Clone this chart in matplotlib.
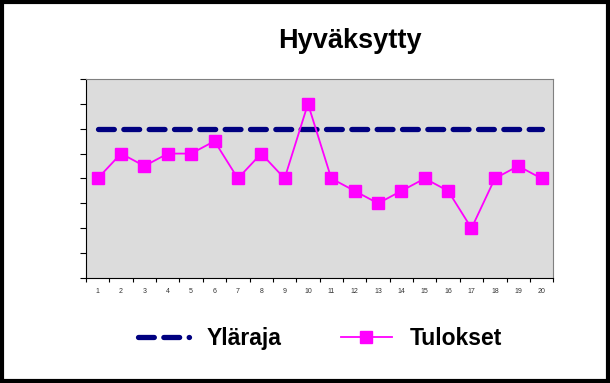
import matplotlib.pyplot as plt
from matplotlib.patches import Rectangle
import numpy as np

plt.rcParams['font.family'] = ['Liberation Sans', 'DejaVu Sans']

kerrat = list(range(1, 21))
ylaraja = [6] * 20
tulokset = [4, 5, 4.5, 5, 5, 5.5, 4, 5, 4, 7, 4, 3.5, 3, 3.5, 4, 3.5, 2, 4, 4.5, 4]

fig = plt.figure(figsize=(6.10, 3.83), dpi=100)
ax = fig.add_axes([0.141, 0.274, 0.766, 0.520])
ax.set_facecolor('#dcdcdc')

ax.plot(kerrat, ylaraja, color='#000080', linewidth=3.8, dashes=(3, 1.8),
        dash_capstyle='round', label='Yläraja')
ax.plot(kerrat, tulokset, color='#ff00ff', linewidth=1.3, marker='s',
        markersize=8.5, label='Tulokset')

ax.set_xlim(0.5, 20.5)
ax.set_ylim(0, 8)
ax.set_xticks(kerrat)
ax.set_xticklabels([str(k) for k in kerrat], fontsize=5, color='#333333')
ax.set_xticks(np.arange(0.5, 21, 1), minor=True)
ax.tick_params(axis='x', which='major', length=0, pad=7)
ax.tick_params(axis='x', which='minor', length=3, width=0.8)
ax.set_yticks(range(0, 9))
ax.set_yticklabels([])
ax.tick_params(axis='y', length=4, width=0.8)

for side in ['top', 'right']:
    ax.spines[side].set_color('#808080')
for side in ['left', 'bottom']:
    ax.spines[side].set_color('black')

fig.text(0.574, 0.893, 'Hyväksytty', ha='center', va='center',
         fontsize=19.5, fontweight='bold')

fig.legend(loc='center', bbox_to_anchor=(0.525, 0.117), ncol=2, frameon=False,
           prop={'size': 16.5, 'weight': 'bold'}, handlelength=2.2,
           columnspacing=2.6, handletextpad=0.8)

fig.add_artist(Rectangle((0.003, 0.004), 0.994, 0.992, transform=fig.transFigure,
                         fill=False, edgecolor='black', linewidth=3))

plt.savefig('out.png', dpi=100)
